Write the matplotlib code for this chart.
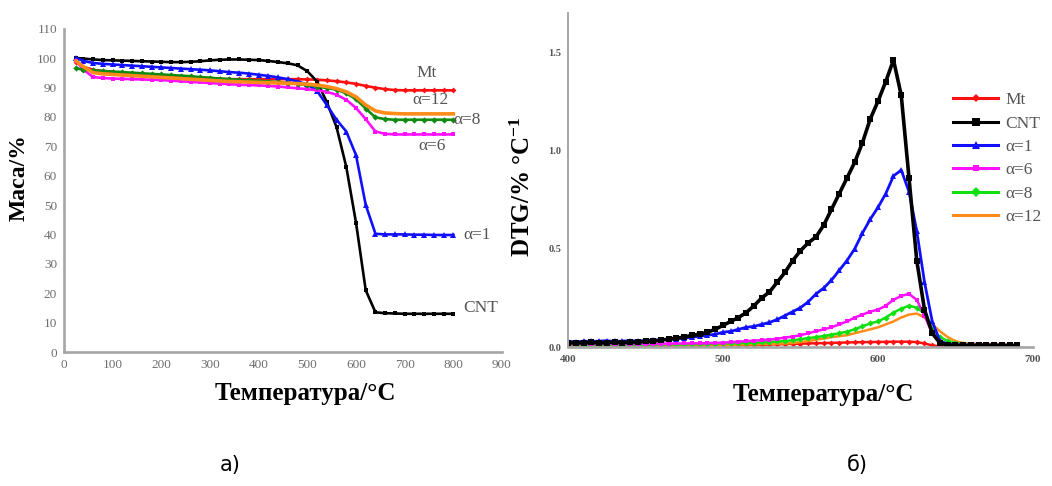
import matplotlib
matplotlib.use("Agg")
import matplotlib.pyplot as plt
from matplotlib.lines import Line2D

plt.rcParams['font.family'] = ['Liberation Serif', 'DejaVu Serif']
plt.rcParams['mathtext.fontset'] = 'custom'
plt.rcParams['mathtext.rm'] = 'Liberation Serif:bold'
plt.rcParams['mathtext.it'] = 'Liberation Serif:bold'
plt.rcParams['mathtext.bf'] = 'Liberation Serif:bold'

# ---------------- TGA data (mass %, vs temperature °C) ----------------
T_TGA = [25, 40, 60, 80, 100, 120, 140, 160, 180, 200,
         220, 240, 260, 280, 300, 320, 340, 360, 380, 400,
         420, 440, 460, 480, 500, 520, 540, 560, 580, 600,
         620, 640, 660, 680, 700, 720, 740, 760, 780, 800]

mass_mt = [98.5, 97.0, 96.0, 95.5, 95.2, 94.9, 94.6, 94.3, 94.1, 93.9,
           93.7, 93.5, 93.3, 93.1, 93.0, 92.9, 92.8, 92.8, 92.8, 92.8,
           92.8, 92.8, 92.8, 92.8, 92.7, 92.6, 92.4, 92.1, 91.7, 91.2,
           90.5, 89.9, 89.4, 89.1, 89.0, 89.0, 89.0, 89.0, 89.0, 89.0]

mass_cnt = [100.0, 99.8, 99.5, 99.3, 99.2, 99.1, 99.0, 98.9, 98.8, 98.7,
            98.6, 98.6, 98.7, 98.9, 99.2, 99.4, 99.5, 99.5, 99.4, 99.3,
            99.0, 98.6, 98.2, 97.5, 95.5, 92.0, 85.0, 76.5, 63.0, 44.0,
            21.0, 13.5, 13.2, 13.1, 13.0, 13.0, 13.0, 13.0, 13.0, 13.0]

mass_a1 = [100.0, 99.0, 98.3, 98.0, 97.8, 97.6, 97.4, 97.2, 97.0, 96.8,
           96.6, 96.4, 96.2, 96.0, 95.8, 95.5, 95.2, 95.0, 94.7, 94.3,
           93.9, 93.4, 92.8, 92.0, 91.0, 88.8, 84.0, 79.0, 75.0, 67.0,
           50.0, 40.2, 40.0, 40.0, 40.0, 39.9, 39.9, 39.8, 39.8, 39.8]

mass_a6 = [99.0, 96.0, 93.5, 93.2, 93.0, 92.9, 92.8, 92.7, 92.6, 92.5,
           92.3, 92.1, 91.9, 91.7, 91.5, 91.3, 91.1, 90.9, 90.8, 90.7,
           90.5, 90.3, 90.0, 89.7, 89.4, 89.0, 88.5, 87.5, 85.8, 83.0,
           79.2, 75.0, 74.2, 74.0, 74.0, 74.0, 74.0, 74.0, 74.0, 74.0]

mass_a8 = [96.5, 96.0, 95.8, 95.6, 95.4, 95.2, 95.0, 94.8, 94.6, 94.4,
           94.2, 94.0, 93.8, 93.5, 93.3, 93.0, 92.8, 92.6, 92.4, 92.2,
           92.0, 91.8, 91.5, 91.2, 90.8, 90.3, 89.8, 89.2, 88.0, 86.0,
           82.8, 79.8, 79.2, 79.0, 79.0, 79.0, 79.0, 79.0, 79.0, 79.0]

mass_a12 = [99.0, 97.0, 95.0, 94.6, 94.4, 94.2, 94.0, 93.8, 93.6, 93.4,
            93.2, 93.0, 92.8, 92.6, 92.4, 92.2, 92.0, 91.9, 91.8, 91.7,
            91.6, 91.5, 91.4, 91.3, 91.1, 90.8, 90.3, 89.6, 88.5, 86.8,
            84.0, 82.0, 81.3, 81.1, 81.0, 81.0, 81.0, 81.0, 81.0, 81.0]

# ---------------- DTG data (%/°C, vs temperature °C) ----------------
T_DTG = [400, 405, 410, 415, 420, 425, 430, 435, 440, 445,
         450, 455, 460, 465, 470, 475, 480, 485, 490, 495,
         500, 505, 510, 515, 520, 525, 530, 535, 540, 545,
         550, 555, 560, 565, 570, 575, 580, 585, 590, 595,
         600, 605, 610, 615, 620, 625, 630, 635, 640, 645,
         650, 655, 660, 665, 670, 675, 680, 685, 690]

dtg_mt = [0.005, 0.005, 0.005, 0.005, 0.005, 0.005, 0.005, 0.005, 0.005, 0.005,
          0.006, 0.006, 0.006, 0.007, 0.007, 0.007, 0.008, 0.008, 0.008, 0.009,
          0.009, 0.010, 0.010, 0.011, 0.012, 0.012, 0.013, 0.014, 0.015, 0.016,
          0.017, 0.018, 0.019, 0.020, 0.021, 0.022, 0.023, 0.024, 0.025, 0.025,
          0.026, 0.026, 0.027, 0.027, 0.027, 0.025, 0.018, 0.008, 0.003, 0.005,
          0.008, 0.010, 0.010, 0.008, 0.010, 0.008, 0.008, 0.006, 0.006]

dtg_cnt = [0.020, 0.022, 0.020, 0.024, 0.020, 0.022, 0.025, 0.022, 0.025, 0.025,
           0.028, 0.030, 0.035, 0.040, 0.045, 0.050, 0.060, 0.065, 0.075, 0.090,
           0.110, 0.130, 0.150, 0.175, 0.210, 0.250, 0.280, 0.330, 0.380, 0.440,
           0.490, 0.530, 0.560, 0.620, 0.700, 0.780, 0.860, 0.940, 1.040, 1.160,
           1.250, 1.350, 1.460, 1.280, 0.860, 0.440, 0.190, 0.070, 0.020, 0.010,
           0.008, 0.008, 0.008, 0.008, 0.008, 0.008, 0.008, 0.008, 0.008]

dtg_a1 = [0.030, 0.025, 0.030, 0.028, 0.030, 0.032, 0.028, 0.030, 0.032, 0.030,
          0.033, 0.035, 0.036, 0.040, 0.040, 0.045, 0.050, 0.055, 0.060, 0.065,
          0.075, 0.080, 0.090, 0.100, 0.105, 0.115, 0.125, 0.140, 0.160, 0.180,
          0.200, 0.230, 0.270, 0.300, 0.340, 0.390, 0.440, 0.500, 0.580, 0.650,
          0.710, 0.780, 0.870, 0.900, 0.790, 0.590, 0.330, 0.130, 0.030, 0.015,
          0.012, 0.010, 0.010, 0.010, 0.010, 0.010, 0.010, 0.008, 0.008]

dtg_a6 = [0.015, 0.014, 0.016, 0.015, 0.015, 0.016, 0.015, 0.015, 0.016, 0.015,
          0.016, 0.016, 0.017, 0.017, 0.018, 0.018, 0.019, 0.019, 0.020, 0.021,
          0.022, 0.025, 0.027, 0.030, 0.032, 0.035, 0.038, 0.042, 0.048, 0.053,
          0.060, 0.070, 0.080, 0.090, 0.100, 0.115, 0.130, 0.150, 0.165, 0.180,
          0.190, 0.210, 0.240, 0.260, 0.270, 0.240, 0.160, 0.070, 0.030, 0.015,
          0.012, 0.010, 0.010, 0.010, 0.010, 0.008, 0.008, 0.008, 0.006]

dtg_a8 = [0.012, 0.012, 0.011, 0.012, 0.012, 0.011, 0.012, 0.012, 0.012, 0.012,
          0.012, 0.013, 0.013, 0.013, 0.014, 0.014, 0.015, 0.015, 0.016, 0.017,
          0.018, 0.019, 0.020, 0.021, 0.022, 0.024, 0.026, 0.028, 0.030, 0.034,
          0.040, 0.045, 0.050, 0.056, 0.063, 0.070, 0.078, 0.090, 0.105, 0.120,
          0.130, 0.150, 0.175, 0.195, 0.210, 0.200, 0.170, 0.090, 0.050, 0.030,
          0.020, 0.015, 0.010, 0.010, 0.010, 0.008, 0.008, 0.008, 0.006]

dtg_a12 = [0.008, 0.008, 0.008, 0.008, 0.008, 0.008, 0.008, 0.008, 0.008, 0.008,
           0.008, 0.008, 0.008, 0.008, 0.008, 0.008, 0.009, 0.009, 0.009, 0.009,
           0.010, 0.011, 0.012, 0.013, 0.014, 0.015, 0.016, 0.017, 0.018, 0.020,
           0.025, 0.030, 0.037, 0.043, 0.050, 0.055, 0.060, 0.070, 0.080, 0.090,
           0.100, 0.115, 0.130, 0.150, 0.165, 0.170, 0.150, 0.115, 0.080, 0.050,
           0.030, 0.020, 0.018, 0.016, 0.015, 0.015, 0.013, 0.010, 0.008]

labels = ['Mt', 'CNT', 'α=1', 'α=6', 'α=8', 'α=12']

# ---------------- styles ----------------
AXIS_GREY = '#a6a6a6'
TEXT_GREY = '#6e6e6e'
style_tga = [
    dict(color='#ff1010', marker='D', ms=3.0, lw=1.9),
    dict(color='#000000', marker='s', ms=3.2, lw=1.9),
    dict(color='#1010ff', marker='^', ms=4.0, lw=1.9),
    dict(color='#ff10ff', marker='s', ms=2.8, lw=1.9),
    dict(color='#118a11', marker='D', ms=3.2, lw=1.9),
    dict(color='#ff8c1a', marker=None, ms=0, lw=2.6),
]
style_dtg = [
    dict(color='#ff1010', marker='D', ms=3.0, lw=1.8),
    dict(color='#000000', marker='s', ms=4.0, lw=2.6),
    dict(color='#1010ff', marker='^', ms=4.5, lw=2.0),
    dict(color='#ff10ff', marker='s', ms=2.8, lw=1.8),
    dict(color='#10e010', marker='D', ms=3.2, lw=1.8),
    dict(color='#ff8c1a', marker=None, ms=0, lw=1.8),
]

W, H = 1052, 486
fig = plt.figure(figsize=(W / 100, H / 100), dpi=100)


def px_axes(x0, x1, y_top, y_bot):
    return fig.add_axes([x0 / W, 1 - y_bot / H, (x1 - x0) / W, (y_bot - y_top) / H])


def style_axes(ax):
    for side in ('top', 'right'):
        ax.spines[side].set_visible(False)
    for side in ('left', 'bottom'):
        ax.spines[side].set_color(AXIS_GREY)
        ax.spines[side].set_linewidth(1.9)
    ax.tick_params(length=0)


# ---------------- left panel: TGA ----------------
ax1 = px_axes(64, 502, 28.6, 352)
tga = [mass_mt, mass_cnt, mass_a1, mass_a6, mass_a8, mass_a12]
for vals, st in zip(tga, style_tga):
    ax1.plot(T_TGA, vals, color=st['color'], marker=st['marker'],
             markersize=st['ms'], linewidth=st['lw'], markeredgewidth=0)
ax1.set_xlim(0, 900)
ax1.set_ylim(0, 110)
ax1.set_xticks(range(0, 901, 100))
ax1.set_yticks(range(0, 111, 10))
style_axes(ax1)
ax1.tick_params(axis='y', pad=5, labelsize=9.5, labelcolor=TEXT_GREY)
ax1.tick_params(axis='x', pad=5, labelsize=9.5, labelcolor=TEXT_GREY)
ax1.set_ylabel('Маса/%', fontsize=17, fontweight='bold')
ax1.yaxis.set_label_coords(-0.078, 0.538)
ax1.set_xlabel('Температура/°C', fontsize=18, fontweight='bold')
ax1.xaxis.set_label_coords(0.55, -0.092)

tga_notes = [('Mt', 746, 94.9), ('α=12', 754, 85.7), ('α=8', 828, 78.9),
             ('α=6', 756, 70.1), ('α=1', 849, 39.8), ('CNT', 857, 15.0)]
for txt, tx, ty in tga_notes:
    ax1.text(tx, ty, txt, fontsize=12.5, color='#555555', ha='center', va='center')

# ---------------- right panel: DTG ----------------
ax2 = px_axes(568, 1033, 12.8, 347)
dtg = [dtg_mt, dtg_cnt, dtg_a1, dtg_a6, dtg_a8, dtg_a12]
order = [0, 5, 4, 3, 2, 1]
for i in order:
    st = style_dtg[i]
    ax2.plot(T_DTG, dtg[i], color=st['color'], marker=st['marker'],
             markersize=st['ms'], linewidth=st['lw'], markeredgewidth=0)
ax2.set_xlim(400, 700)
ax2.set_ylim(0, 1.7)
ax2.set_xticks([400, 500, 600, 700])
ax2.set_yticks([0.0, 0.5, 1.0, 1.5])
ax2.set_yticklabels(['0.0', '0.5', '1.0', '1.5'])
style_axes(ax2)
ax2.spines['left'].set_linewidth(1.4)
ax2.tick_params(axis='y', pad=5, labelsize=7.5, labelcolor='#555555')
ax2.tick_params(axis='x', pad=6, labelsize=8, labelcolor='#555555')
for lab in ax2.get_xticklabels() + ax2.get_yticklabels():
    lab.set_fontweight('bold')
ax2.set_ylabel('DTG/% °C$^{-1}$', fontsize=18, fontweight='bold')
ax2.yaxis.set_label_coords(-0.072, 0.479)
ax2.set_xlabel('Температура/°C', fontsize=18, fontweight='bold')
ax2.xaxis.set_label_coords(0.55, -0.108)

handles = [Line2D([], [], color=st['color'], marker=st['marker'], markersize=st['ms'] + 1.5,
                  linewidth=2.2, markeredgewidth=0) for st in style_dtg]
fig.legend(handles, labels, loc='upper left', bbox_to_anchor=(953 / W, 1 - 92 / H),
           frameon=False, fontsize=12.5, labelcolor='#555555', numpoints=1,
           handlelength=2.6, handletextpad=0.4, labelspacing=0.42,
           borderpad=0, borderaxespad=0)

# panel captions
fig.text(230 / W, 1 - 465 / H, 'а)', fontsize=15, family='DejaVu Sans', ha='center', va='center')
fig.text(857 / W, 1 - 465 / H, 'б)', fontsize=15, family='DejaVu Sans', ha='center', va='center')

fig.savefig('out.png', dpi=100)
